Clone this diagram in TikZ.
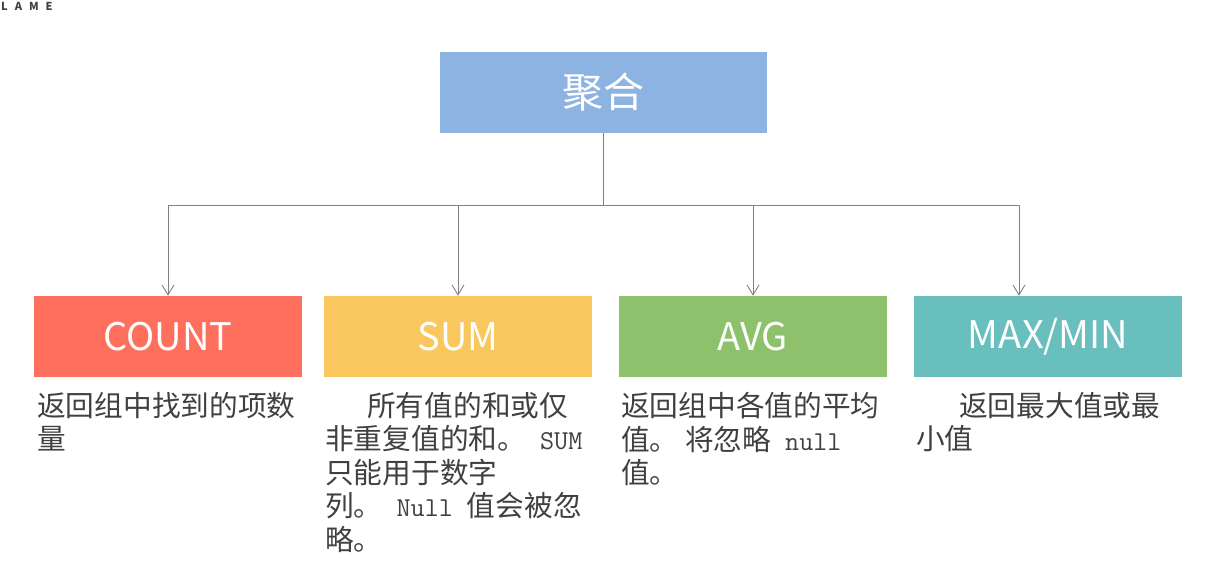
\documentclass[tikz,border=0pt]{standalone}
\usepackage{fontspec}
\setmainfont{Noto Sans CJK SC}
\usetikzlibrary{arrows.meta}

\definecolor{topblue}{HTML}{8DB3E2}
\definecolor{countred}{HTML}{FF6F5E}
\definecolor{sumyellow}{HTML}{FAC65E}
\definecolor{avggreen}{HTML}{8DC16B}
\definecolor{maxteal}{HTML}{68BFBD}
\definecolor{linegray}{HTML}{808080}
\definecolor{textgray}{HTML}{404040}

\newcommand{\lat}[1]{{\ttfamily\fontsize{27.3}{33.5}\selectfont #1}}

\begin{document}
\begin{tikzpicture}[x=1pt,y=-1pt,
  box/.style={inner sep=0pt,minimum width=268pt,minimum height=81pt,text=white,
    font=\fontsize{38}{40}\selectfont},
  desc/.style={anchor=north west,inner sep=0pt,align=left,text=textgray,
    font=\fontsize{28.7}{33.5}\selectfont},
  link/.style={draw=linegray,line width=0.9pt},
  tip/.style={-{Straight Barb[length=10pt,width=12pt,line width=0.9pt]}}]
\useasboundingbox (0,0) rectangle (1231,584);

% logo
\node[inner sep=0pt,anchor=west,text=darkgray,font=\fontsize{11}{11}\selectfont\bfseries]
  (logo) at (1,6) {L\hspace{7pt}A\hspace{7pt}M\hspace{7pt}E};

% boxes
\node[box,fill=topblue,minimum width=327pt,font=\fontsize{41}{44}\selectfont]
  (top) at (603.5,92.5) {聚合};
\node[box,fill=countred] (count) at (168,336.5) {COUNT};
\node[box,fill=sumyellow] (sum) at (458,336.5) {SUM};
\node[box,fill=avggreen] (avg) at (753,336.5) {AVG};
\node[box,fill=maxteal] (max) at (1048,336.5) {MAX/MIN};

% connectors
\coordinate (fork) at (603.5,205);
\draw[link] (top.south) -- (fork);
\draw[link,tip] (fork) -| (count.north);
\draw[link,tip] (fork) -| (sum.north);
\draw[link,tip] (fork) -| (avg.north);
\draw[link,tip] (fork) -| ([xshift=-29pt]max.north);

% descriptions
\node[desc] (countdesc) at (37,392) {返回组中找到的项数\\量};
\node[desc] (sumdesc) at (325,392)
  {\hspace*{42pt}所有值的和或仅\\非重复值的和。\lat{ SUM}\\只能用于数字\\列。\lat{ Null }值会被忽\\略。};
\node[desc] (avgdesc) at (621,392) {返回组中各值的平均\\值。 将忽略\lat{ null}\\值。};
\node[desc] (maxdesc) at (916,392) {\hspace*{43pt}返回最大值或最\\小值};
\end{tikzpicture}
\end{document}
